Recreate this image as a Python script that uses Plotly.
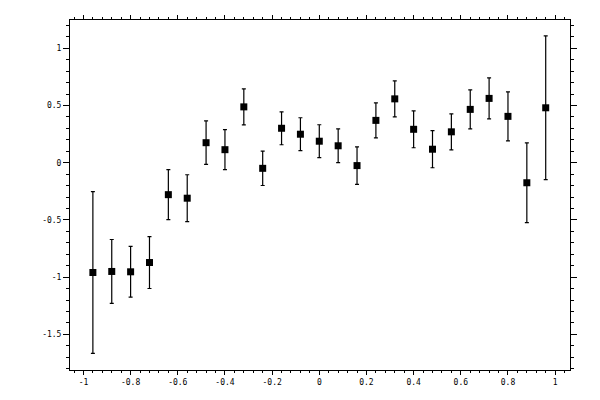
import plotly.graph_objects as go

# measured points (x, y) and symmetric error
x_vals = [-0.96, -0.88, -0.80, -0.72, -0.64, -0.56, -0.48, -0.40, -0.32, -0.24, -0.16, -0.08,
          0.0, 0.08, 0.16, 0.24, 0.32, 0.40, 0.48, 0.56, 0.64, 0.72, 0.80, 0.88, 0.96]
y_vals = [-0.959, -0.950, -0.953, -0.872, -0.279, -0.310, 0.175, 0.114, 0.488, -0.049, 0.301, 0.249,
          0.188, 0.148, -0.025, 0.370, 0.558, 0.292, 0.118, 0.270, 0.466, 0.562, 0.405, -0.175, 0.480]
y_err = [0.706, 0.279, 0.222, 0.227, 0.218, 0.205, 0.190, 0.175, 0.157, 0.150, 0.144, 0.144,
         0.144, 0.148, 0.164, 0.153, 0.157, 0.161, 0.162, 0.157, 0.170, 0.179, 0.214, 0.349, 0.628]

x_ticks = [-1, -0.8, -0.6, -0.4, -0.2, 0, 0.2, 0.4, 0.6, 0.8, 1]
x_labels = ["-1", "-0.8", "-0.6", "-0.4", "-0.2", "0", "0.2", "0.4", "0.6", "0.8", "1"]
y_ticks = [-1.5, -1, -0.5, 0, 0.5, 1]
y_labels = ["-1.5", "-1", "-0.5", "0", "0.5", "1"]

fig = go.Figure()
fig.add_trace(go.Scatter(
    x=x_vals, y=y_vals, mode="markers",
    marker=dict(symbol="square", size=7, color="black"),
    error_y=dict(type="data", array=y_err, visible=True, color="black", thickness=1.2, width=2),
    showlegend=False,
))

axis_common = dict(
    showline=True, linecolor="black", linewidth=1, mirror="allticks",
    ticks="outside", tickcolor="black", tickwidth=1,
    showgrid=False, zeroline=False, automargin=False,
    tickfont=dict(family="DejaVu Sans Mono", size=8, color="black"),
)

fig.update_xaxes(range=[-1.057, 1.063], tickvals=x_ticks, ticktext=x_labels, ticklen=4,
                 minor=dict(dtick=0.04, tick0=0, ticklen=2, ticks="outside", tickcolor="black"),
                 **axis_common)
fig.update_yaxes(range=[-1.811, 1.247], tickvals=y_ticks, ticktext=y_labels, ticklen=6,
                 minor=dict(dtick=0.1, tick0=0, ticklen=3, ticks="outside", tickcolor="black"),
                 **axis_common)

# page body adds an 8px offset, so margins are shifted to compensate
fig.update_layout(
    width=600, height=400,
    margin=dict(l=62, r=38, t=12, b=38),
    paper_bgcolor="white", plot_bgcolor="white",
)

fig.write_html("out.html")
